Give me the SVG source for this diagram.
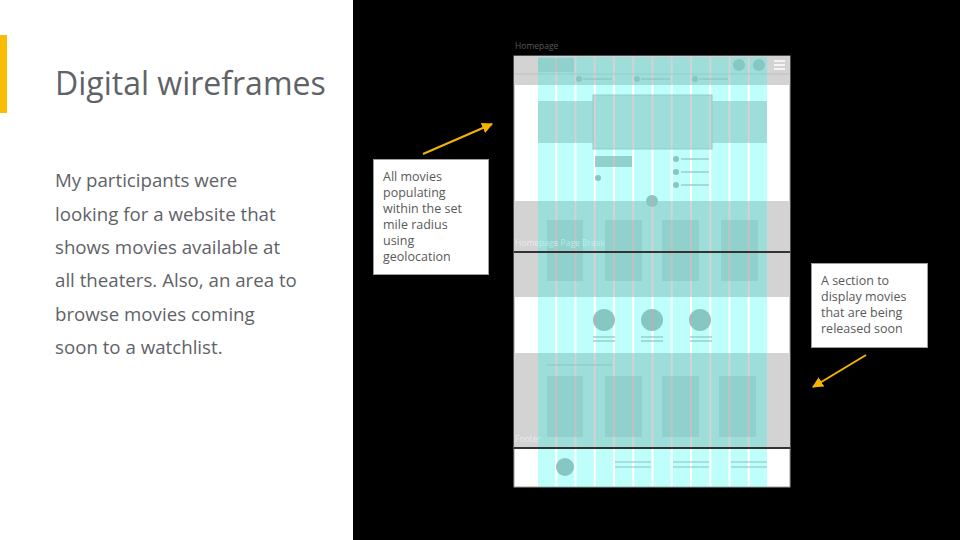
<svg xmlns="http://www.w3.org/2000/svg" width="960" height="540" viewBox="0 0 960 540">
<defs>
<style>
.title{font-family:"Open Sans","Liberation Sans",sans-serif;font-size:32px;fill:#5f6368}
.body{font-family:"Open Sans","Liberation Sans",sans-serif;font-size:18.7px;fill:#5f6368}
.note{font-family:"Open Sans","Liberation Sans",sans-serif;font-size:12.5px;fill:#595959}
.lbl{font-family:"Open Sans","Liberation Sans",sans-serif;font-size:8.5px}
.box{fill:#ffffff;stroke:#9e9e9e;stroke-width:1}
.sec{fill:#d3d3d3}
.card{fill:#c2c2c2}
.dot{fill:#b4b4b4}
.ln{stroke:#b4b4b4;stroke-width:1.2}
.col{fill:#00fff0;fill-opacity:0.25}
.brk{stroke:#333333;stroke-width:2}
.arrow{stroke:#f4b400;stroke-width:2;fill:none}
</style>
<marker id="ah" viewBox="0 0 10 10" refX="9" refY="5" markerWidth="5.5" markerHeight="5.5" orient="auto" markerUnits="strokeWidth">
<path d="M0,0 L10,5 L0,10 z" fill="#f4b400"/>
</marker>
</defs>
<rect x="0" y="0" width="960" height="540" fill="#000000"/>
<rect x="0" y="0" width="353" height="540" fill="#ffffff"/>
<rect x="0" y="35" width="7" height="78" fill="#fbbc04"/>
<text class="title" x="55" y="95">Digital wireframes</text>
<g id="body-text">
<text class="body" x="55" y="187">My participants were</text>
<text class="body" x="55" y="221">looking for a website that</text>
<text class="body" x="55" y="254">shows movies available at</text>
<text class="body" x="55" y="287">all theaters. Also, an area to</text>
<text class="body" x="55" y="321">browse movies coming</text>
<text class="body" x="55" y="354">soon to a watchlist.</text>
</g>
<g id="wireframe">
<text class="lbl" x="515" y="49" fill="#5a5a5a">Homepage</text>
<rect x="514" y="56" width="276" height="431" fill="#ffffff" stroke="#9e9e9e" stroke-width="1"/>
<rect class="sec" x="514" y="56" width="276" height="29"/>
<line x1="514" y1="74" x2="790" y2="74" stroke="#c0c0c0" stroke-width="1"/>
<rect class="card" x="538" y="58" width="36" height="14"/>
<circle class="dot" cx="739" cy="65" r="6"/>
<circle class="dot" cx="759" cy="65" r="6"/>
<g stroke="#ffffff" stroke-width="1.5">
<line x1="774" y1="61" x2="785" y2="61"/>
<line x1="774" y1="65" x2="785" y2="65"/>
<line x1="774" y1="69" x2="785" y2="69"/>
</g>
<circle class="dot" cx="579" cy="79" r="3"/>
<circle class="dot" cx="637" cy="79" r="3"/>
<circle class="dot" cx="695" cy="79" r="3"/>
<line class="ln" x1="583" y1="79" x2="612" y2="79"/>
<line class="ln" x1="641" y1="79" x2="670" y2="79"/>
<line class="ln" x1="699" y1="79" x2="728" y2="79"/>
<rect class="sec" x="538" y="101" width="229" height="42"/>
<rect class="sec" x="593" y="95" width="119" height="54" stroke="#bdbdbd" stroke-width="1"/>
<rect class="card" x="595" y="156" width="37" height="11"/>
<circle class="dot" cx="598" cy="178" r="3"/>
<circle class="dot" cx="676" cy="159" r="3"/>
<circle class="dot" cx="676" cy="172" r="3"/>
<circle class="dot" cx="676" cy="185" r="3"/>
<line class="ln" x1="681" y1="159" x2="709" y2="159"/>
<line class="ln" x1="681" y1="172" x2="709" y2="172"/>
<line class="ln" x1="681" y1="185" x2="709" y2="185"/>
<rect class="sec" x="514" y="201" width="276" height="96"/>
<circle class="dot" cx="652" cy="201" r="6"/>
<rect class="card" x="547" y="220" width="36" height="61"/>
<rect class="card" x="605" y="220" width="37" height="61"/>
<rect class="card" x="662" y="220" width="37" height="61"/>
<rect class="card" x="721" y="220" width="37" height="61"/>
<text class="lbl" x="515" y="246" fill="#f2f2f2" fill-opacity="0.8">Homepage Page Break</text>
<circle class="dot" cx="604" cy="320" r="11"/>
<circle class="dot" cx="652" cy="320" r="11"/>
<circle class="dot" cx="700" cy="320" r="11"/>
<line class="ln" x1="593" y1="337" x2="615" y2="337"/>
<line class="ln" x1="593" y1="341" x2="615" y2="341"/>
<line class="ln" x1="641" y1="337" x2="663" y2="337"/>
<line class="ln" x1="641" y1="341" x2="663" y2="341"/>
<line class="ln" x1="690" y1="337" x2="712" y2="337"/>
<line class="ln" x1="690" y1="341" x2="712" y2="341"/>
<rect class="sec" x="514" y="353" width="276" height="95"/>
<line class="ln" x1="547" y1="365" x2="612" y2="365"/>
<rect class="card" x="547" y="376" width="36" height="61"/>
<rect class="card" x="605" y="376" width="37" height="61"/>
<rect class="card" x="662" y="376" width="37" height="61"/>
<rect class="card" x="719" y="376" width="37" height="61"/>
<text class="lbl" x="515" y="442" fill="#f2f2f2" fill-opacity="0.8">Footer</text>
<circle class="dot" cx="565" cy="467" r="9"/>
<line class="ln" x1="615" y1="462" x2="651" y2="462"/>
<line class="ln" x1="615" y1="467" x2="651" y2="467"/>
<line class="ln" x1="673" y1="462" x2="709" y2="462"/>
<line class="ln" x1="673" y1="467" x2="709" y2="467"/>
<line class="ln" x1="731" y1="462" x2="767" y2="462"/>
<line class="ln" x1="731" y1="467" x2="767" y2="467"/>
<g id="grid">
<rect class="col" x="538" y="57" width="17.25" height="430"/>
<rect class="col" x="557.25" y="57" width="17.25" height="430"/>
<rect class="col" x="576.5" y="57" width="17.25" height="430"/>
<rect class="col" x="595.75" y="57" width="17.25" height="430"/>
<rect class="col" x="615" y="57" width="17.25" height="430"/>
<rect class="col" x="634.25" y="57" width="17.25" height="430"/>
<rect class="col" x="653.5" y="57" width="17.25" height="430"/>
<rect class="col" x="672.75" y="57" width="17.25" height="430"/>
<rect class="col" x="692" y="57" width="17.25" height="430"/>
<rect class="col" x="711.25" y="57" width="17.25" height="430"/>
<rect class="col" x="730.5" y="57" width="17.25" height="430"/>
<rect class="col" x="749.75" y="57" width="17.25" height="430"/>
</g>
<line class="brk" x1="514" y1="252" x2="790" y2="252"/>
<line class="brk" x1="514" y1="448" x2="790" y2="448"/>
</g>
<g id="note-geolocation">
<rect class="box" x="373.5" y="159.5" width="115" height="115"/>
<text class="note" x="383" y="181">All movies</text>
<text class="note" x="383" y="197">populating</text>
<text class="note" x="383" y="213">within the set</text>
<text class="note" x="383" y="229">mile radius</text>
<text class="note" x="383" y="245">using</text>
<text class="note" x="383" y="261">geolocation</text>
</g>
<g id="note-soon">
<rect class="box" x="811.5" y="263.5" width="116" height="84"/>
<text class="note" x="821" y="285">A section to</text>
<text class="note" x="821" y="301">display movies</text>
<text class="note" x="821" y="317">that are being</text>
<text class="note" x="821" y="333">released soon</text>
</g>
<g id="connectors">
<line class="arrow" x1="423" y1="154" x2="492" y2="124" marker-end="url(#ah)"/>
<line class="arrow" x1="866" y1="355" x2="813" y2="387" marker-end="url(#ah)"/>
</g>
</svg>
